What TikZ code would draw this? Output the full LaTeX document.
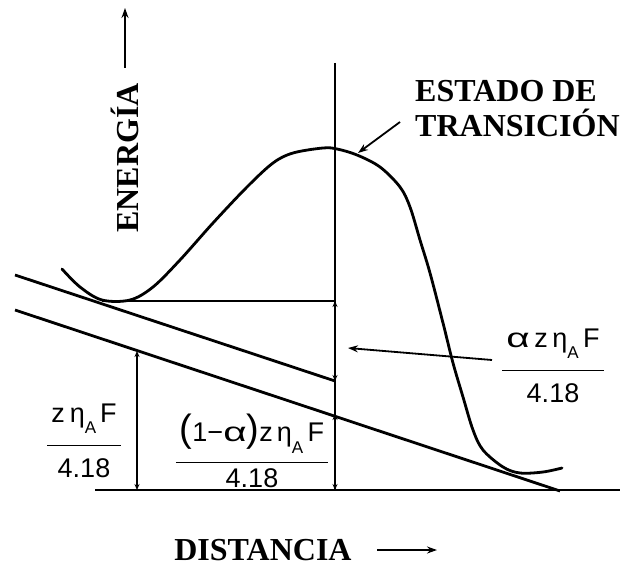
\documentclass[tikz,border=0pt]{standalone}
\usepackage{fontspec}
\usepackage{graphicx}
\setmainfont{Liberation Serif}
\newfontfamily\hand{Liberation Sans}
\usepackage{tikz}
\usetikzlibrary{arrows.meta}
\setlength\arrayrulewidth{1.4pt}
\newcommand\subA{\raisebox{-.42em}{\fontsize{17}{17}\selectfont A}}
\newcommand\bigp[1]{{\fontsize{38}{38}\selectfont #1}}
\newcommand\wal{\scalebox{1.5}[1]{α}}
\newcommand\frc[4][13pt]{\begin{tabular}{@{\hspace{4pt}}c@{\hspace{4pt}}}#3\\[#1]\hline\rule{0pt}{#2}#4\end{tabular}}

\begin{document}
\begin{tikzpicture}[x=1pt,y=-1pt,>={Stealth[length=10pt,width=7pt]},
lbl/.style={font=\bfseries\fontsize{32}{35}\selectfont,inner sep=0pt},
hw/.style={font=\hand\fontsize{27}{32}\selectfont,inner sep=0pt},
thickline/.style={line width=2.8pt},
thinline/.style={line width=1.8pt},
dimarrow/.style={line width=1.8pt,{Stealth[length=6pt,width=5pt]}-{Stealth[length=6pt,width=5pt]}}]
\useasboundingbox (0,0) rectangle (623,567);
% axes and reference lines
\coordinate (vtop) at (335,63);
\coordinate (vbot) at (335,490);
\coordinate (b0) at (95,490);
\coordinate (b1) at (620,490);
\coordinate (u0) at (15,275);
\coordinate (u1) at (335,381);
\coordinate (l0) at (15,310);
\coordinate (l1) at (560,491);
\coordinate (hmin) at (102,301);
\coordinate (hend) at (335,301);
\coordinate (lcut) at (335,414);
\coordinate (la) at (137,351);
\coordinate (lb) at (137,490);
\draw[thickline] (vtop)--(vbot);
\draw[thickline] (b0)--(b1);
\draw[thickline] (u0)--(u1);
\draw[thickline] (l0)--(l1);
\draw[thinline] (hmin)--(hend);
% energy profile
\draw[thickline,line cap=round] plot[smooth,tension=0.55] coordinates {(62,269) (80,287) (102,300)
 (130,300) (153,287) (180,260) (213,223) (247,187) (273,163) (293,153) (323,148) (337,149)
 (357,155) (380,167) (400,187) (410,207) (420,240) (430,273) (443,323) (453,363) (463,397)
 (473,430) (483,450) (503,467) (520,473) (543,472) (562,468)};
% double arrows
\draw[dimarrow] (hend)--(u1);
\draw[dimarrow] (lcut)--(vbot);
\draw[dimarrow] (la)--(lb);
% labels
\node[lbl,rotate=90] (energia) at (125,158) {ENERGÍA};
\node[lbl] (distancia) at (263,550) {DISTANCIA};
\node[lbl,align=left,anchor=north west] (estado) at (415,80) {ESTADO DE\\TRANSICIÓN};
\node[hw] (lzf) at (84,443.5) {\frc{31pt}{z\hspace{5pt}η\subA\hspace{4pt}F}{4.18}};
\node[hw] (mzf) at (252,456) {\frc[10pt]{25pt}{\bigp{(}1−\wal\bigp{)}z\hspace{4pt}η\subA\,F}{4.18}};
\node[hw] (rzf) at (553,368.5) {\frc{31pt}{\wal\,z\,η\subA\,F}{4.18}};
\coordinate (etail) at (125,68);
\coordinate (ehead) at (125,8);
\coordinate (dtail) at (377,550);
\coordinate (dhead) at (437,550);
\coordinate (peak) at (358,153);
\coordinate (stail) at (400,122);
\coordinate (atip) at (348,348);
\coordinate (atail) at (492,360);
\draw[->,thickline] (etail)--(ehead);
\draw[->,thinline] (dtail)--(dhead);
\draw[->,thinline] (stail)--(peak);
\draw[->,thinline] (atail)--(atip);
\end{tikzpicture}
\end{document}
